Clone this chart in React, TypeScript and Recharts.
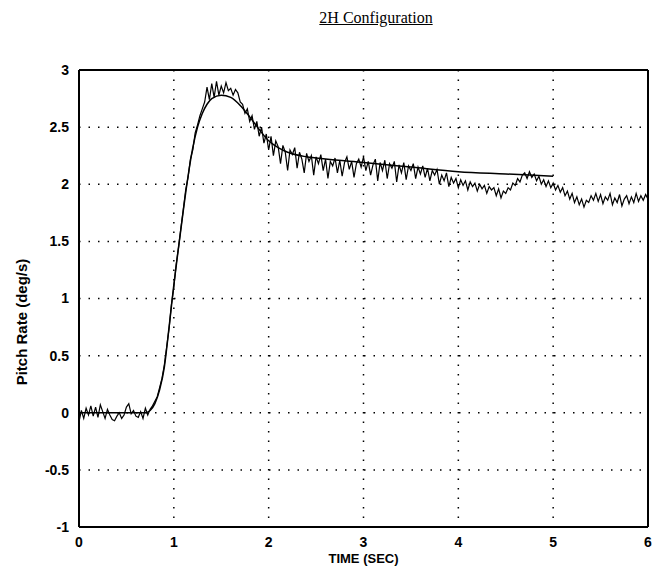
import { LineChart, Line, XAxis, YAxis, CartesianGrid, ReferenceLine } from "recharts";

// flight data sampled every 0.025 s from 0 to 6 s
const flightStep = 0.025;
const flightRate = [
  -0.08, 0.02, -0.05, 0.04, -0.02, 0.06, -0.03, 0.05, -0.04, 0.07,
  0.01, -0.05, 0.03, -0.02, -0.06, -0.07, -0.03, 0.0, -0.05, -0.02,
  0.05, 0.08, -0.01, 0.02, -0.03, -0.04, 0.01, -0.05, 0.04, -0.02,
  0.03, 0.06, 0.1, 0.14, 0.22, 0.3, 0.42, 0.58, 0.74, 0.95,
  1.1, 1.3, 1.45, 1.62, 1.78, 1.95, 2.06, 2.22, 2.3, 2.45,
  2.52, 2.6, 2.66, 2.72, 2.85, 2.74, 2.88, 2.76, 2.9, 2.78,
  2.86, 2.8, 2.89, 2.82, 2.84, 2.78, 2.83, 2.8, 2.72, 2.7,
  2.62, 2.66, 2.55, 2.6, 2.48, 2.55, 2.42, 2.5, 2.36, 2.44,
  2.3, 2.42, 2.25, 2.38, 2.33, 2.18, 2.34, 2.28, 2.12, 2.3,
  2.26, 2.32, 2.14, 2.28, 2.22, 2.1, 2.27, 2.2, 2.25, 2.08,
  2.24, 2.18, 2.26, 2.12, 2.22, 2.05, 2.2, 2.16, 2.23, 2.1,
  2.21, 2.07, 2.19, 2.24, 2.13, 2.2, 2.06, 2.18, 2.22, 2.15,
  2.24, 2.12, 2.2, 2.08, 2.17, 2.22, 2.03, 2.19, 2.12, 2.21,
  2.05, 2.18, 2.14, 2.2, 2.02, 2.17, 2.1, 2.19, 2.04, 2.16,
  2.12, 2.18, 2.05, 2.15, 2.09, 2.16, 2.06, 2.14, 2.03, 2.12,
  2.08, 2.13, 2.0, 2.08, 2.03, 2.1, 1.98, 2.06, 2.01, 2.05,
  1.97, 2.04, 1.99, 2.03, 1.95, 2.02, 1.98, 2.01, 1.94, 2.0,
  1.96, 1.99, 1.92, 1.98, 1.95, 1.97, 1.9, 1.96, 1.88, 1.94,
  1.92, 1.97, 1.95, 2.01, 1.99, 2.05, 2.02, 2.08, 2.1, 2.05,
  2.11, 2.06, 2.09, 2.03, 2.07, 2.0, 2.04, 1.98, 2.03, 1.97,
  2.01, 1.95, 1.99, 1.93, 1.97, 1.9, 1.94, 1.87, 1.92, 1.84,
  1.89, 1.82, 1.87, 1.8, 1.86, 1.84, 1.9, 1.86, 1.92, 1.85,
  1.91, 1.83, 1.89, 1.86, 1.92, 1.82, 1.88, 1.84, 1.91, 1.81,
  1.87, 1.9, 1.83, 1.89, 1.84, 1.92, 1.85, 1.9, 1.86, 1.91,
  1.87,
];

// model response
const modelTime = [0, 0.7, 0.75, 0.8, 0.85, 0.9, 0.95, 1.0, 1.05, 1.1, 1.15, 1.2, 1.25, 1.3, 1.35, 1.4, 1.5, 1.6, 1.7, 1.8, 1.9, 2.0, 2.1, 2.2, 2.4, 2.6, 3.0, 3.5, 4.0, 4.5, 5.0];
const modelRate = [0, 0, 0.02, 0.08, 0.2, 0.4, 0.75, 1.12, 1.45, 1.77, 2.07, 2.32, 2.5, 2.62, 2.7, 2.75, 2.78, 2.76, 2.69, 2.59, 2.48, 2.38, 2.32, 2.28, 2.24, 2.22, 2.19, 2.15, 2.11, 2.09, 2.07];

const xTicks = [0, 1, 2, 3, 4, 5, 6];
const yTicks = [-1, -0.5, 0, 0.5, 1, 1.5, 2, 2.5, 3];

const flightData = flightRate.map((v, i) => ({ t: +(i * flightStep).toFixed(3), v }));
const modelData = modelTime.map((t, i) => ({ t, v: modelRate[i] }));

const tickStyle = { fill: "#000", fontFamily: "Liberation Sans, Arial, sans-serif", fontSize: 14, fontWeight: "bold" as const };

const YLabel = () => (
  <text transform="translate(27,322) rotate(-90)" textAnchor="middle" style={{ ...tickStyle, fontSize: 15 }}>
    Pitch Rate (deg/s)
  </text>
);

export default function App() {
  return (
    <div style={{ position: "absolute", left: 0, top: 0, width: 657, height: 571, background: "#fff" }}>
      <div
        style={{
          position: "absolute",
          top: 9,
          left: 0,
          width: 752,
          textAlign: "center",
          fontFamily: "Liberation Serif, Times New Roman, serif",
          fontSize: 16,
          textDecoration: "underline",
        }}
      >
        2H Configuration
      </div>
      <LineChart width={657} height={571} margin={{ top: 70, right: 9, bottom: 8, left: 29 }}>
        <CartesianGrid stroke="#000" strokeWidth={1.5} strokeDasharray="1.5 8" horizontalValues={yTicks} verticalValues={xTicks} />
        <XAxis
          dataKey="t"
          type="number"
          domain={[0, 6]}
          ticks={xTicks}
          allowDataOverflow
          height={36}
          tickLine={false}
          tickMargin={4}
          axisLine={{ stroke: "#000", strokeWidth: 2 }}
          tick={tickStyle}
          label={{ value: "TIME (SEC)", position: "insideBottom", offset: 0, style: { ...tickStyle, fontSize: 13 } }}
        />
        <YAxis
          type="number"
          domain={[-1, 3]}
          ticks={yTicks}
          width={50}
          tickLine={false}
          tickMargin={4}
          axisLine={{ stroke: "#000", strokeWidth: 2 }}
          tick={tickStyle}
          label={{ value: "Pitch Rate (deg/s)", content: YLabel }}
        />
        <ReferenceLine y={3} stroke="#000" strokeWidth={2} />
        <ReferenceLine x={6} stroke="#000" strokeWidth={2} />
        <Line data={modelData} dataKey="v" type="monotone" stroke="#000" strokeWidth={1.5} dot={false} isAnimationActive={false} />
        <Line data={flightData} dataKey="v" type="linear" stroke="#000" strokeWidth={1.2} dot={false} isAnimationActive={false} />
      </LineChart>
    </div>
  );
}
